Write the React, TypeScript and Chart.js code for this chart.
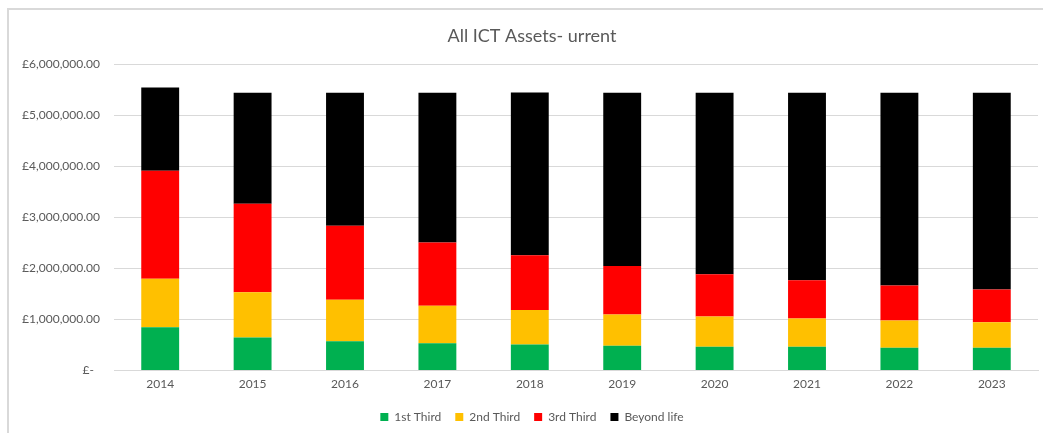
import React, { useEffect, useRef } from "react";
import { Chart, registerables } from "chart.js";

Chart.register(...registerables);

const years = ["2014", "2015", "2016", "2017", "2018", "2019", "2020", "2021", "2022", "2023"];
const firstThird = [850000, 650000, 575000, 535000, 510000, 485000, 470000, 470000, 450000, 450000];
const secondThird = [950000, 885000, 815000, 735000, 680000, 615000, 590000, 550000, 530000, 500000];
const thirdThird = [2120000, 1735000, 1450000, 1240000, 1070000, 950000, 830000, 750000, 690000, 640000];
const beyondLife = [1630000, 2180000, 2610000, 2940000, 3195000, 3400000, 3560000, 3680000, 3780000, 3860000];
const seriesNames = ["1st Third", "2nd Third", "3rd Third", "Beyond life"];
const seriesColors = ["#00B050", "#FFC000", "#FF0000", "#000000"];
const titleText = "All ICT Assets- urrent";

const FONT = "Lato, 'Open Sans', sans-serif";
const TEXT = "#595959";
const GRID = "#d9d9d9";
const CANVAS_W = 1064;
const CANVAS_H = 433;

function formatPounds(v: number): string {
  if (v === 0) return "£-  ";
  return "£" + v.toLocaleString("en-GB", { minimumFractionDigits: 2, maximumFractionDigits: 2 });
}

const framePlugin = {
  id: "frame",
  beforeDraw(chart: any) {
    const ctx = chart.ctx;
    ctx.save();
    ctx.fillStyle = "#ffffff";
    ctx.fillRect(0, 0, chart.width, chart.height);
    ctx.strokeStyle = GRID;
    ctx.lineWidth = 2;
    ctx.beginPath();
    ctx.moveTo(8, chart.height);
    ctx.lineTo(8, 9);
    ctx.lineTo(chart.width, 9);
    ctx.stroke();
    ctx.restore();
  },
};

export default function App() {
  const ref = useRef<HTMLCanvasElement | null>(null);
  useEffect(() => {
    if (!ref.current) return;
    const data = [firstThird, secondThird, thirdThird, beyondLife];
    const chart = new Chart(ref.current, {
      type: "bar",
      data: {
        labels: years,
        datasets: seriesNames.map((name, i) => ({
          label: name,
          data: data[i],
          backgroundColor: seriesColors[i],
          borderWidth: 0,
          categoryPercentage: 1,
          barPercentage: 0.41,
        })),
      },
      options: {
        responsive: false,
        animation: false,
        layout: { padding: { left: 0, right: 0, top: 0, bottom: 0 } },
        plugins: {
          title: {
            display: true,
            text: titleText,
            color: TEXT,
            font: { family: FONT, size: 18, weight: "normal" },
            padding: { top: 25, bottom: 18 },
          },
          legend: {
            position: "bottom",
            labels: {
              color: TEXT,
              font: { family: FONT, size: 12 },
              boxWidth: 8,
              boxHeight: 8,
              padding: 14,
            },
          },
          tooltip: { enabled: false },
        },
        scales: {
          x: {
            stacked: true,
            grid: { display: false, drawTicks: false },
            border: { display: true, color: GRID, width: 1 },
            ticks: { color: TEXT, font: { family: FONT, size: 12 }, padding: 6 },
          },
          y: {
            stacked: true,
            min: 0,
            max: 6000000,
            grid: { color: GRID, drawTicks: false },
            border: { display: false },
            afterFit(scale: any) {
              scale.width = 114;
            },
            ticks: {
              stepSize: 1000000,
              color: TEXT,
              font: { family: FONT, size: 12 },
              padding: 14,
              callback: (v: any) => formatPounds(Number(v)),
            },
          },
          ySpacer: {
            position: "right",
            min: 0,
            max: 6000000,
            grid: { display: false, drawTicks: false },
            border: { display: false },
            ticks: { display: false },
            afterFit(scale: any) {
              scale.width = CANVAS_W - 1038;
            },
          },
        },
      },
      plugins: [framePlugin],
    });
    return () => chart.destroy();
  }, []);
  return (
    <div style={{ position: "absolute", left: 0, top: 0, width: 1043, height: 433, overflow: "hidden" }}>
      <canvas
        ref={ref}
        width={CANVAS_W}
        height={CANVAS_H}
        style={{ position: "absolute", left: 0, top: 0, display: "block" }}
      />
    </div>
  );
}
